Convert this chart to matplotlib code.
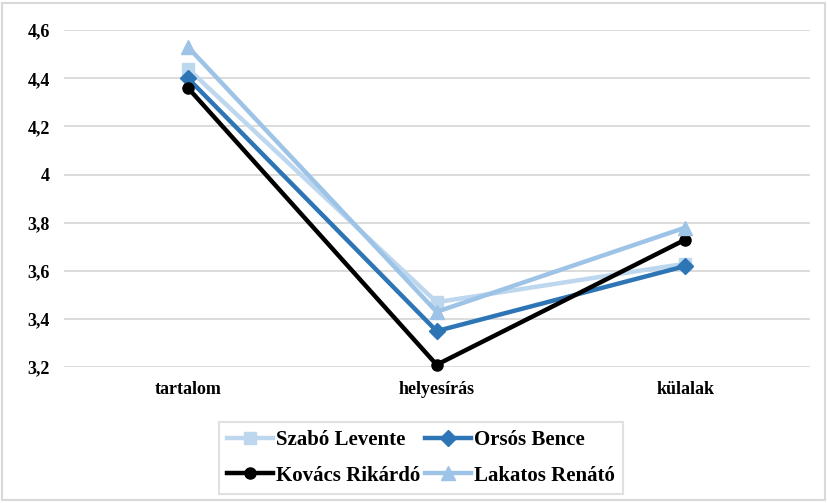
import matplotlib.pyplot as plt
from matplotlib.patches import Rectangle

# Data
categories = ['tartalom', 'helyesírás', 'külalak']
szabo = [4.44, 3.47, 3.63]
orsos = [4.40, 3.35, 3.62]
kovacs = [4.36, 3.21, 3.73]
lakatos = [4.53, 3.43, 3.78]
yticks = [3.2, 3.4, 3.6, 3.8, 4.0, 4.2, 4.4, 4.6]
ytick_labels = ['3,2', '3,4', '3,6', '3,8', '4', '4,2', '4,4', '4,6']

plt.rcParams['font.family'] = ['Liberation Serif', 'DejaVu Serif']
plt.rcParams['font.weight'] = 'bold'

fig = plt.figure(figsize=(8.27, 5.03), dpi=100)
ax = fig.add_axes([0.077, 0.27, 0.902, 0.67])

x = range(len(categories))
l1, = ax.plot(x, szabo, color='#bdd7ee', lw=3.2, marker='s', ms=9, label='Szabó Levente', clip_on=False)
l2, = ax.plot(x, orsos, color='#2e75b6', lw=3.2, marker='D', ms=8, label='Orsós Bence', clip_on=False)
l3, = ax.plot(x, kovacs, color='black', lw=3.2, marker='o', ms=8, label='Kovács Rikárdó', clip_on=False)
l4, = ax.plot(x, lakatos, color='#9dc3e6', lw=3.2, marker='^', ms=10, label='Lakatos Renátó', clip_on=False)

ax.set_xlim(-0.5, 2.5)
ax.set_ylim(3.2, 4.6)
ax.set_xticks(list(x))
ax.set_xticklabels(categories, fontsize=13, fontweight='bold')
ax.set_yticks(yticks)
ax.set_yticklabels(ytick_labels, fontsize=13, fontweight='bold')
ax.tick_params(length=0, pad=10)
ax.grid(axis='y', color='#d9d9d9', lw=1.3)
ax.set_axisbelow(True)
for s in ax.spines.values():
    s.set_visible(False)

# column-major fill -> rows: Szabó/Orsós, Kovács/Lakatos
leg = fig.legend([l1, l3, l2, l4],
                 ['Szabó Levente', 'Kovács Rikárdó', 'Orsós Bence', 'Lakatos Renátó'],
                 loc='center', bbox_to_anchor=(0.509, 0.090), ncol=2,
                 prop={'weight': 'bold', 'size': 15},
                 frameon=True, fancybox=False, edgecolor='#d9d9d9',
                 handlelength=2.2, handletextpad=0.15, columnspacing=0.2,
                 labelspacing=0.75, borderpad=0.4)
leg.get_frame().set_linewidth(1.5)

# outer border
fig.patches.append(Rectangle((0.003, 0.005), 0.994, 0.99, transform=fig.transFigure,
                             fill=False, edgecolor='#d9d9d9', lw=1.5))

fig.savefig('out.png', dpi=100)
